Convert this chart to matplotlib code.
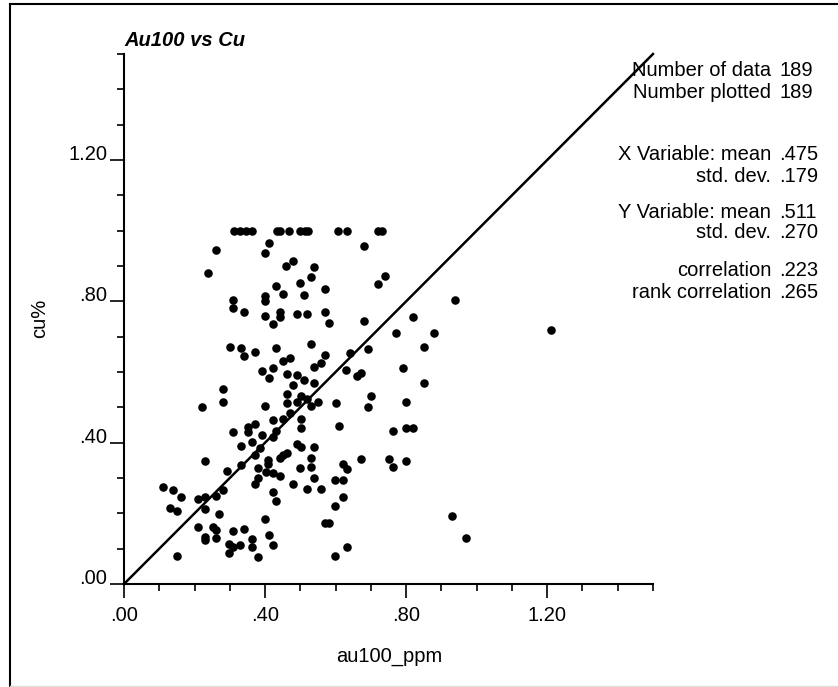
import matplotlib
matplotlib.use('Agg')
import matplotlib.pyplot as plt
from matplotlib.ticker import MultipleLocator, FuncFormatter
from matplotlib.lines import Line2D

plt.rcParams['font.family'] = ['Liberation Sans', 'DejaVu Sans']

# au100 (ppm) vs cu (%) samples
au100 = [
    0.313, 0.329, 0.346, 0.362, 0.433, 0.442, 0.469, 0.499, 0.513, 0.523,
    0.608, 0.631, 0.721, 0.731,
    0.261, 0.411, 0.401, 0.239, 0.459, 0.480, 0.539, 0.529, 0.499, 0.431,
    0.452, 0.509, 0.571, 0.310, 0.401, 0.401, 0.310, 0.341, 0.401, 0.442,
    0.442, 0.490, 0.520, 0.571, 0.422, 0.580,
    0.529, 0.301, 0.331, 0.341, 0.371, 0.431, 0.471, 0.452, 0.571, 0.560,
    0.539, 0.391, 0.422, 0.410, 0.461, 0.490, 0.509, 0.539, 0.480, 0.282,
    0.282, 0.220, 0.461, 0.501, 0.520, 0.461, 0.490, 0.551, 0.529, 0.600,
    0.401, 0.471, 0.452, 0.422, 0.501, 0.501, 0.371, 0.351, 0.351, 0.310,
    0.431, 0.422, 0.391, 0.362, 0.331, 0.386, 0.490, 0.501, 0.539, 0.610,
    0.371, 0.230, 0.331, 0.291, 0.381, 0.409, 0.409, 0.442, 0.452, 0.461,
    0.499, 0.529, 0.529, 0.381, 0.371, 0.403, 0.422, 0.442, 0.539, 0.599,
    0.480, 0.520, 0.560, 0.110, 0.140, 0.161, 0.211, 0.230, 0.261, 0.282,
    0.422, 0.431, 0.130, 0.151, 0.230, 0.270, 0.599, 0.401, 0.571, 0.580,
    0.211, 0.253, 0.261, 0.230, 0.230, 0.261, 0.310, 0.341, 0.362, 0.362,
    0.412, 0.299, 0.299, 0.329, 0.310, 0.422, 0.381, 0.151, 0.599,
    0.680, 0.741, 0.721, 0.938, 0.820, 0.680, 0.771, 0.880, 0.850, 0.641,
    0.691, 0.629, 0.661, 0.671, 0.790, 0.850, 0.700, 0.691, 0.800, 0.762,
    0.800, 0.820, 0.671, 0.620, 0.631, 0.752, 0.762, 0.800, 0.620, 0.620,
    0.631, 0.931, 0.970, 1.210,
]
cu = [
    1.000, 1.000, 1.000, 1.000, 1.000, 1.000, 1.000, 1.000, 1.000, 1.000,
    1.000, 1.000, 1.000, 1.000,
    0.946, 0.965, 0.937, 0.880, 0.901, 0.915, 0.898, 0.868, 0.852, 0.843,
    0.822, 0.817, 0.836, 0.805, 0.814, 0.800, 0.781, 0.771, 0.759, 0.771,
    0.757, 0.764, 0.764, 0.771, 0.736, 0.740,
    0.679, 0.671, 0.668, 0.644, 0.658, 0.667, 0.639, 0.630, 0.647, 0.625,
    0.613, 0.603, 0.610, 0.583, 0.595, 0.592, 0.576, 0.570, 0.562, 0.552,
    0.516, 0.502, 0.538, 0.533, 0.524, 0.512, 0.514, 0.516, 0.504, 0.512,
    0.504, 0.484, 0.467, 0.465, 0.467, 0.441, 0.452, 0.443, 0.429, 0.431,
    0.433, 0.416, 0.422, 0.403, 0.391, 0.384, 0.397, 0.389, 0.389, 0.446,
    0.365, 0.348, 0.337, 0.321, 0.329, 0.351, 0.339, 0.356, 0.365, 0.370,
    0.329, 0.356, 0.332, 0.301, 0.283, 0.318, 0.315, 0.306, 0.301, 0.293,
    0.283, 0.268, 0.268, 0.274, 0.266, 0.245, 0.241, 0.245, 0.249, 0.266,
    0.260, 0.235, 0.216, 0.207, 0.212, 0.198, 0.221, 0.183, 0.174, 0.172,
    0.161, 0.161, 0.153, 0.132, 0.125, 0.131, 0.151, 0.155, 0.127, 0.106,
    0.139, 0.113, 0.087, 0.110, 0.106, 0.110, 0.076, 0.080, 0.080,
    0.958, 0.873, 0.850, 0.803, 0.757, 0.743, 0.710, 0.711, 0.671, 0.654,
    0.665, 0.606, 0.590, 0.597, 0.612, 0.569, 0.531, 0.500, 0.514, 0.433,
    0.441, 0.441, 0.354, 0.339, 0.325, 0.354, 0.331, 0.348, 0.293, 0.247,
    0.106, 0.193, 0.129, 0.720,
]

stat_labels = ['Number of data', 'Number plotted',
               'X Variable: mean', 'std. dev.',
               'Y Variable: mean', 'std. dev.',
               'correlation', 'rank correlation']
stat_values = ['189', '189', '.475', '.179', '.511', '.270', '.223', '.265']
stat_rows_px = [70, 92, 155, 176, 212, 233, 270, 292]

W, H = 838, 687
FS = 14.5
fig = plt.figure(figsize=(W / 100, H / 100), dpi=100)
ax = fig.add_axes([124 / W, 1 - 584 / H, (653 - 124) / W, (584 - 54) / H])

ax.scatter(au100, cu, s=38, c='black', linewidths=0, zorder=3, clip_on=False)
ax.plot([0, 1.5], [0, 1.5], color='black', lw=1.8, zorder=2, clip_on=False)

ax.set_xlim(0, 1.5)
ax.set_ylim(0, 1.5)
for side in ('top', 'right'):
    ax.spines[side].set_visible(False)
for side in ('left', 'bottom'):
    ax.spines[side].set_linewidth(1.5)

fmt = FuncFormatter(lambda v, pos: f'{v:.2f}'.lstrip('0') if v < 1 else f'{v:.2f}')
for axis in (ax.xaxis, ax.yaxis):
    axis.set_major_locator(MultipleLocator(0.4))
    axis.set_minor_locator(MultipleLocator(0.1))
    axis.set_major_formatter(fmt)
ax.tick_params(which='major', length=10, width=1.2, labelsize=FS, direction='out')
ax.tick_params(which='minor', length=5, width=1.2, direction='out')
ax.tick_params(axis='x', which='major', pad=6)
ax.tick_params(axis='y', which='major', pad=2)
# y labels sit on top of their tick line
for lbl in ax.get_yticklabels():
    lbl.set_verticalalignment('baseline')

fig.text(124 / W, 1 - 40 / H, 'Au100 vs Cu', ha='left', va='center',
         fontsize=FS, fontweight='bold', fontstyle='italic')
fig.text(389 / W, 1 - 656 / H, 'au100_ppm', ha='center', va='center', fontsize=FS)
fig.text(40 / W, 1 - 318 / H, 'cu%', ha='center', va='center', fontsize=FS,
         rotation=90)

for label, value, ypx in zip(stat_labels, stat_values, stat_rows_px):
    fig.text(771 / W, 1 - ypx / H, label, ha='right', va='center', fontsize=FS)
    fig.text(779 / W, 1 - ypx / H, value, ha='left', va='center', fontsize=FS)

# page frame
fig.add_artist(Line2D([9.5 / W, 9.5 / W], [0, 1 - 4 / H], color='black', lw=1.5,
                      transform=fig.transFigure))
fig.add_artist(Line2D([9.5 / W, 1], [1 - 4 / H, 1 - 4 / H], color='black', lw=1.5,
                      transform=fig.transFigure))
fig.add_artist(Line2D([9.5 / W, 1], [0.7 / H, 0.7 / H], color='#dddddd', lw=1,
                      transform=fig.transFigure))

fig.savefig('out.png', dpi=100)
